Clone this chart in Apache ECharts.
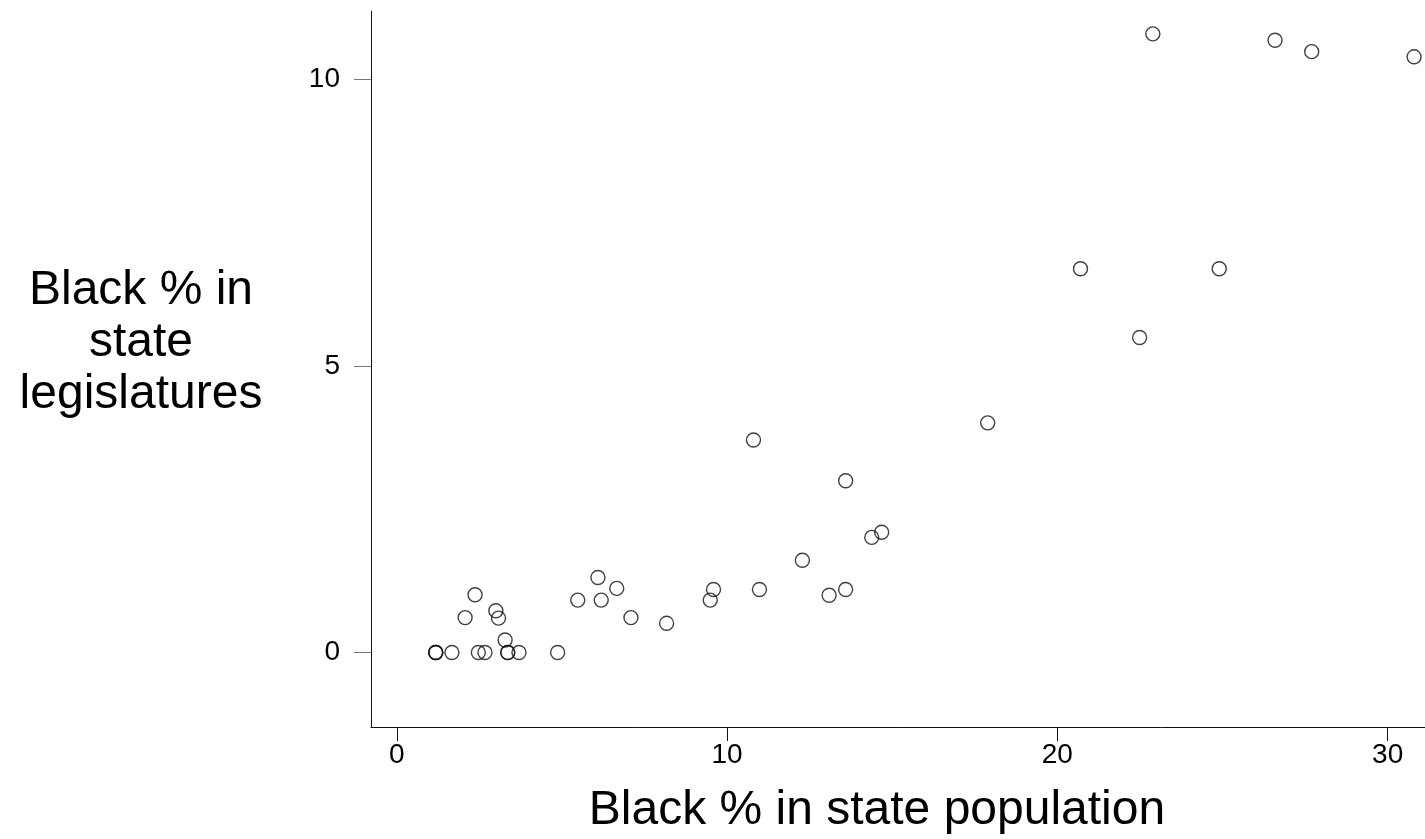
<!DOCTYPE html>
<html>
<head>
<meta charset="utf-8">
<script src="https://cdn.jsdelivr.net/npm/echarts@6/dist/echarts.min.js"></script>
<style>
html,body{margin:0;padding:0;background:#fff;}
#chart{width:1425px;height:839px;}
</style>
</head>
<body>
<div id="chart"></div>
<script>
// Black % in state population (x) vs Black % in state legislatures (y)
const popPct = [1.18, 1.18, 1.18, 1.67, 2.47, 2.67, 3.36, 3.36, 3.70, 4.87,
  3.28, 2.07, 2.37, 3.00, 3.08, 5.48, 6.09, 6.19, 6.66, 7.09, 8.17,
  10.80, 13.59, 14.68, 14.38, 12.28, 9.59, 9.49, 10.98, 13.09, 13.59,
  27.70, 30.80, 22.89, 26.59, 20.70, 24.90, 22.49, 17.89];
const legPct = [0, 0, 0, 0, 0, 0, 0, 0, 0, 0,
  0.22, 0.61, 1.01, 0.73, 0.60, 0.915, 1.31, 0.915, 1.12, 0.61, 0.51,
  3.71, 3.00, 2.10, 2.01, 1.61, 1.10, 0.915, 1.10, 1.00, 1.10,
  10.49, 10.40, 10.80, 10.69, 6.70, 6.70, 5.50, 4.01];
const xTicks = [0, 10, 20, 30];
const yTicks = [0, 5, 10];
const xTitle = 'Black % in state population';
const yTitle = ['Black % in', 'state', 'legislatures'];

const points = popPct.map((x, i) => [x, legPct[i]]);
const FONT = '"Liberation Sans", Arial, Helvetica, sans-serif';

const chart = echarts.init(document.getElementById('chart'), null, {renderer: 'canvas'});
chart.setOption({
  backgroundColor: '#ffffff',
  animation: false,
  grid: {left: 371, right: 0, top: 11, bottom: 112, containLabel: false},
  xAxis: {
    type: 'value', min: -0.78, max: 31.13,
    splitLine: {show: false},
    axisLine: {show: true, onZero: false, lineStyle: {color: '#111', width: 1}},
    axisTick: {show: true, customValues: xTicks, length: 14, lineStyle: {color: '#111', width: 1}},
    axisLabel: {show: true, customValues: xTicks, margin: 14, fontSize: 28, color: '#000', fontFamily: FONT}
  },
  yAxis: {
    type: 'value', min: -1.30, max: 11.20,
    splitLine: {show: false},
    axisLine: {show: true, onZero: false, lineStyle: {color: '#111', width: 1}},
    axisTick: {show: true, customValues: yTicks, length: 17, lineStyle: {color: '#777', width: 1}},
    axisLabel: {show: true, customValues: yTicks, margin: 31, fontSize: 28, color: '#000', fontFamily: FONT}
  },
  series: [{
    type: 'scatter',
    data: points,
    symbol: 'circle',
    symbolSize: 14,
    itemStyle: {color: 'rgba(255,255,255,0)', borderColor: '#111', borderWidth: 1.4},
    emphasis: {disabled: true}
  }],
  graphic: [
    {type: 'text', x: 877, y: 811, style: {
      text: xTitle, font: '48px ' + FONT, fill: '#000',
      textAlign: 'center', textVerticalAlign: 'middle'}},
    {type: 'text', x: 141, y: 343, style: {
      text: yTitle.join('\n'), font: '48px ' + FONT, fill: '#000',
      lineHeight: 52, textAlign: 'center', textVerticalAlign: 'middle'}}
  ]
});
</script>
</body>
</html>
